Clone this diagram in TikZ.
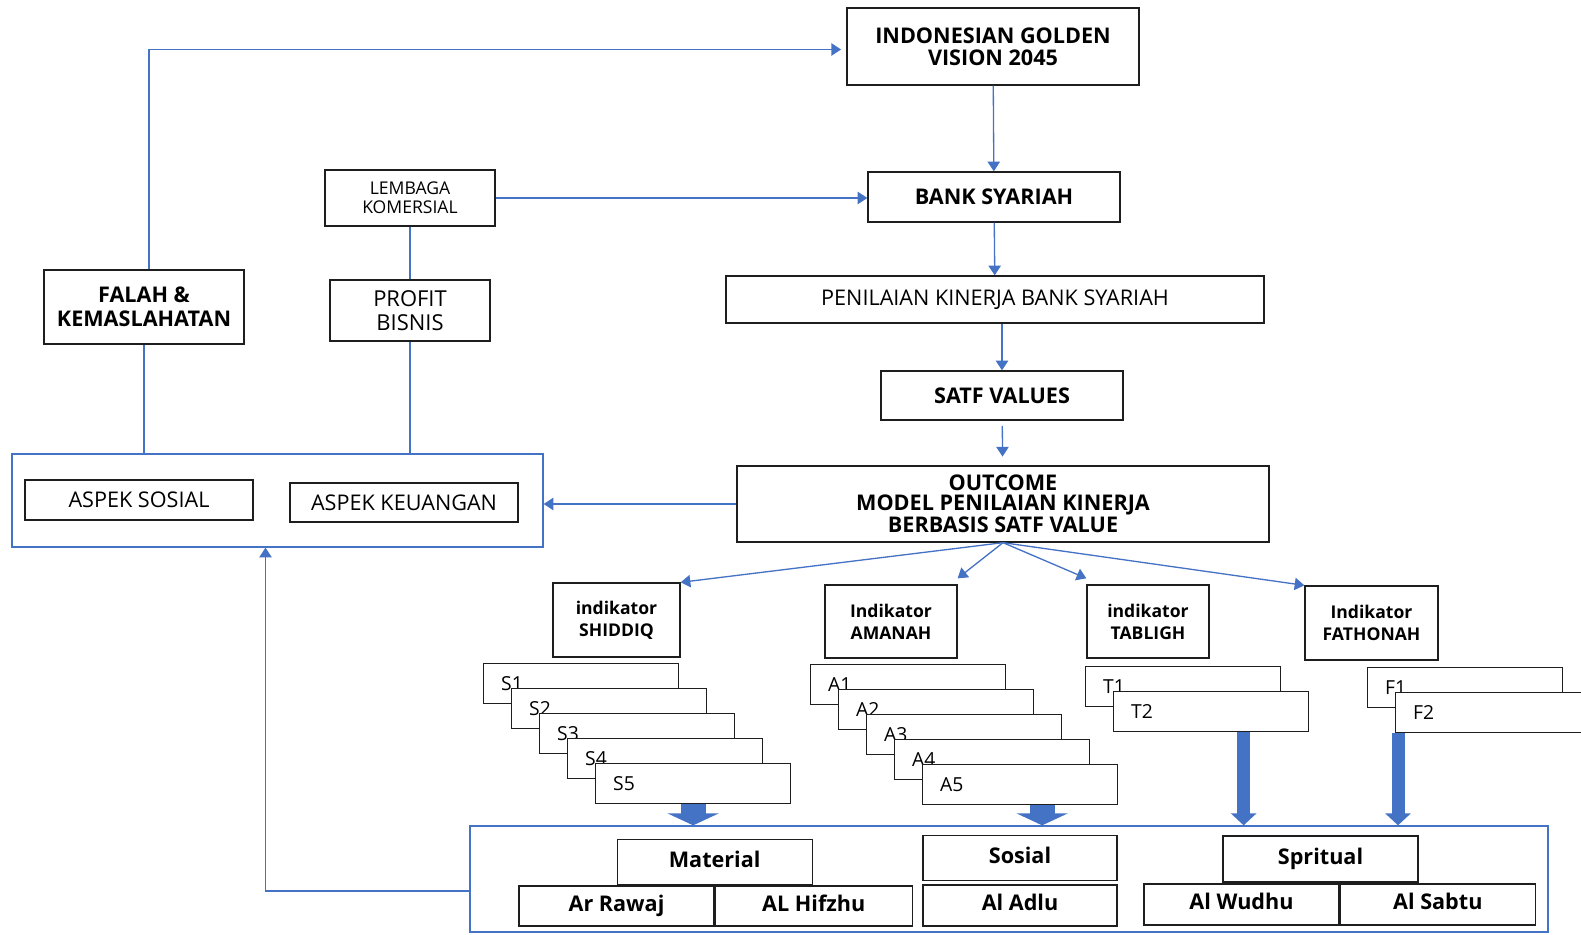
\documentclass[tikz,border=0pt]{standalone}
\usepackage{fontspec}
\setmainfont{Open Sans}
\usepackage{xcolor}
\definecolor{linkblue}{RGB}{68,114,196}
\definecolor{boxline}{RGB}{30,30,30}
\usepackage{tikz}
\usetikzlibrary{arrows.meta,positioning,calc}

\begin{document}
\begin{tikzpicture}[x=0.02cm, y=-0.02cm,
    wh/.style 2 args={minimum width=#1*0.02cm, minimum height=#2*0.02cm},
    tbox/.style={rectangle, draw=boxline, line width=0.75pt, fill=white,
                 inner sep=1pt, align=center,
                 font=\fontsize{12.3}{13}\selectfont},
    hbox/.style={tbox, font=\fontsize{12.3}{13}\selectfont\bfseries},
    vbox/.style={hbox, text height=1.6ex, text depth=0.45ex},
    ibox/.style={tbox, font=\fontsize{10}{12.5}\selectfont\bfseries},
    item/.style={tbox, anchor=north west, minimum height=0.8cm,
                 text width=3.2cm, inner xsep=0.35cm, align=left,
                 font=\fontsize{11}{13}\selectfont},
    frame/.style={rectangle, draw=linkblue, line width=0.75pt},
    link/.style={draw=linkblue, line width=0.75pt},
    arr/.style={link, -{Triangle[length=5.5pt, width=7pt]}},
    fatS/.style={draw=linkblue, line width=0.5cm,
                 -{Triangle[length=0.24cm, width=1.02cm]}},
    fatL/.style={draw=linkblue, line width=0.26cm,
                 -{Triangle[length=0.24cm, width=0.5cm]}}
  ]
    \useasboundingbox (0,0) rectangle (1581,935);

    \node[hbox, wh={292}{77}, font=\fontsize{12.3}{12.5}\selectfont\bfseries] (golden) at (993,46.5) {INDONESIAN GOLDEN\\VISION 2045};
    \node[hbox, wh={252}{50}] (bank) at (994,197) {BANK SYARIAH};
    \node[tbox, wh={538}{47}] (kinerja) at (995,299.5) {PENILAIAN KINERJA BANK SYARIAH};
    \node[hbox, wh={242}{49}] (satf) at (1002,395.5) {SATF VALUES};
    \node[hbox, wh={532}{76}, font=\fontsize{12.3}{11.2}\selectfont\bfseries] (outcome) at (1003,504) {OUTCOME\\MODEL PENILAIAN KINERJA\\BERBASIS SATF VALUE};

    \node[tbox, wh={170}{56}, font=\fontsize{10}{10.8}\selectfont] (lembaga) at (410,198) {LEMBAGA\\KOMERSIAL};
    \node[tbox, wh={160}{61}, font=\fontsize{12.5}{14}\selectfont] (profit) at (410,310.5) {PROFIT\\BISNIS};
    \node[hbox, wh={200}{74}, font=\fontsize{12.3}{13.7}\selectfont\bfseries] (falah) at (144,307) {FALAH \&\\KEMASLAHATAN};

    \node[frame, wh={531}{93}] (aspek) at (277.5,500.5) {};
    \node[tbox, wh={228}{40}] (sosial) at (139,500) {ASPEK SOSIAL};
    \node[tbox, wh={228}{39}] (keuangan) at (404,502.5) {ASPEK KEUANGAN};

    \node[ibox, wh={127}{74}] (shiddiq) at (616.5,620) {indikator\\SHIDDIQ};
    \node[ibox, wh={132}{73}] (amanah) at (891,621.5) {Indikator\\AMANAH};
    \node[ibox, wh={122}{73}] (tabligh) at (1148,621.5) {indikator\\TABLIGH};
    \node[ibox, wh={133}{74}] (fathonah) at (1371.5,623) {Indikator\\FATHONAH};

    \foreach \i in {1,...,5}
      \node[item] (s\i) at ({483+28*(\i-1)},{663+25*(\i-1)}) {S\i};
    \foreach \i in {1,...,5}
      \node[item] (a\i) at ({810+28*(\i-1)},{664+25*(\i-1)}) {A\i};
    \foreach \i in {1,2}
      \node[item] (t\i) at ({1085+28*(\i-1)},{666+25*(\i-1)}) {T\i};
    \foreach \i in {1,2}
      \node[item] (f\i) at ({1367+28*(\i-1)},{667+25*(\i-1)}) {F\i};

    \node[frame, wh={1078}{106}] (nilai) at (1009,879) {};
    \node[vbox, wh={195}{40}] (rawaj) at (616.5,906) {Ar Rawaj};
    \node[vbox, wh={197}{40}, right=0pt of rawaj] (hifzhu) {AL Hifzhu};
    \node[vbox, wh={195}{45}, above=0pt of rawaj.north east] (material) {Material};
    \node[vbox, wh={194}{41}] (adlu) at (1020,905.5) {Al Adlu};
    \node[vbox, wh={194}{45}, above=2pt of adlu] (sosval) {Sosial};
    \node[vbox, wh={195}{41}] (wudhu) at (1241.5,904.5) {Al Wudhu};
    \node[vbox, wh={195}{41}, right=0pt of wudhu] (sabtu) {Al Sabtu};
    \node[vbox, wh={195}{46}] (spritual) at (1320.5,859) {Spritual};

    \draw[arr] (golden) -- (bank);
    \draw[arr] (bank) -- (kinerja);
    \draw[arr] (satf.north |- kinerja.south) -- (satf);
    \draw[arr, shorten <=3pt, shorten >=5pt] (satf) -- (outcome);
    \draw[arr] (lembaga.east) -- (lembaga.east -| bank.west);
    \draw[link] (lembaga) -- (profit);
    \draw[link] (profit.south) -- (profit.south |- aspek.north);
    \draw[link] (falah.south) -- (falah.south |- aspek.north);
    \draw[arr, shorten >=3pt] ([xshift=0.1cm]falah.north) |- ([yshift=-0.06cm]golden.west);
    \draw[arr] (outcome.west) -- (outcome.west -| aspek.east);

    \draw[arr] (outcome.south) -- (shiddiq.north east);
    \draw[arr] (outcome.south) -- ([yshift=0.12cm]amanah.north east);
    \draw[arr] (outcome.south) -- ([yshift=0.12cm]tabligh.north west);
    \draw[arr] (outcome.south) -- (fathonah.north west);
    \draw[arr] ([yshift=-0.24cm]nilai.west) -| ([xshift=-0.24cm]aspek.south);

    \coordinate (adl) at ([xshift=0.44cm]a5.south);
    \coordinate (tbl) at ([xshift=0.65cm]t2.south);
    \coordinate (fth) at ([xshift=0.06cm]f2.south west);
    \draw[fatS] (s5.south) -- (s5.south |- nilai.north);
    \draw[fatS] (adl) -- (adl |- nilai.north);
    \draw[fatL] (tbl) -- (tbl |- nilai.north);
    \draw[fatL] (fth) -- (fth |- nilai.north);
  \end{tikzpicture}
\end{document}
